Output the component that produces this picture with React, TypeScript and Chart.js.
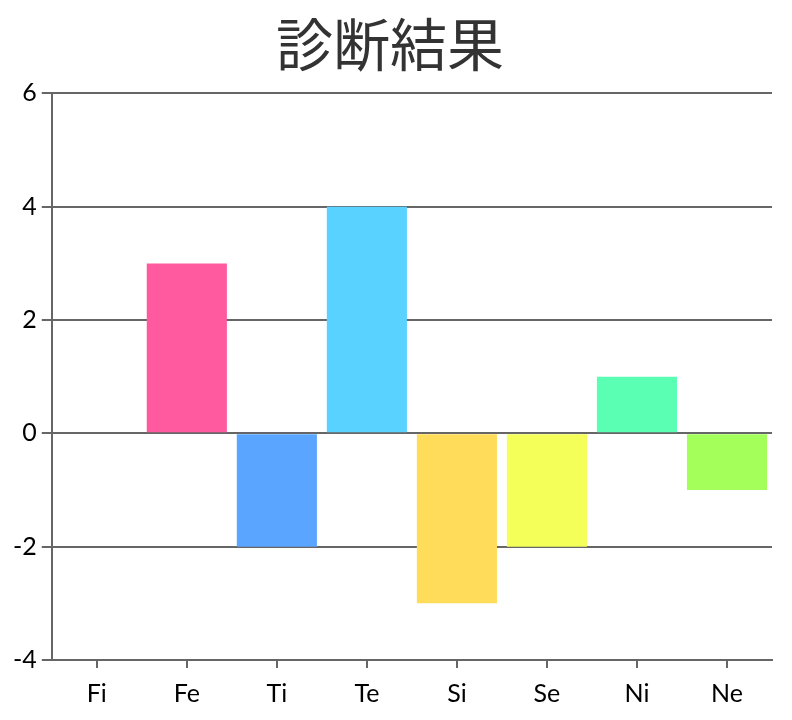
import React, { useEffect, useRef } from "react";
import { Chart, registerables } from "chart.js";

Chart.register(...registerables);

const categories = ["Fi", "Fe", "Ti", "Te", "Si", "Se", "Ni", "Ne"];
const values = [0, 3, -2, 4, -3, -2, 1, -1];
const barColors = ["#FF5A5A", "#FF5AA0", "#5AA5FF", "#5AD2FF", "#FFDC5A", "#F5FF5A", "#5AFFB4", "#A5FF5A"];
const titleText = "診断結果";
const yMin = -4;
const yMax = 6;
const yStep = 2;

export default function App() {
  const ref = useRef<HTMLCanvasElement | null>(null);
  useEffect(() => {
    if (!ref.current) return;
    const font = "'Lato', 'Noto Sans', sans-serif";
    const chart = new Chart(ref.current, {
      type: "bar",
      data: {
        labels: categories,
        datasets: [
          {
            data: values,
            backgroundColor: barColors,
            borderWidth: 0,
            categoryPercentage: 1,
            barPercentage: 0.89,
          },
        ],
      },
      options: {
        animation: false,
        responsive: true,
        maintainAspectRatio: false,
        layout: { padding: { left: 0, right: 12, top: 0, bottom: 0 } },
        plugins: {
          legend: { display: false },
          tooltip: { enabled: false },
          title: {
            display: true,
            text: titleText,
            color: "#333333",
            font: { family: "'Noto Sans CJK JP', sans-serif", size: 57, weight: "normal" },
            padding: { top: 2, bottom: 15 },
          },
        },
        scales: {
          x: {
            grid: { display: true, offset: false, drawOnChartArea: false, drawTicks: true, tickLength: 8, color: "#666666", lineWidth: 2 },
            border: { display: true, color: "#666666", width: 2 },
            ticks: { color: "#000000", font: { family: font, size: 25 }, padding: 11 },
          },
          y: {
            min: yMin,
            max: yMax,
            grid: { color: "#666666", lineWidth: 2, tickLength: 10, drawTicks: true },
            border: { display: true, color: "#666666", width: 2 },
            ticks: { stepSize: yStep, color: "#000000", font: { family: font, size: 25 }, padding: 5 },
          },
        },
      },
    });
    return () => chart.destroy();
  }, []);
  return (
    <div style={{ width: 776, height: 712 }}>
      <canvas ref={ref} />
    </div>
  );
}
